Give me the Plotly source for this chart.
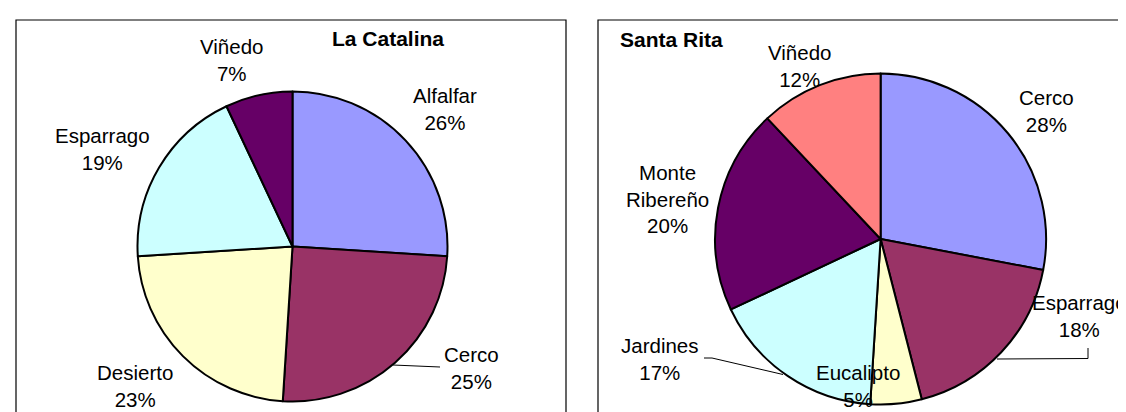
import plotly.graph_objects as go

W, H = 1126, 412

# ---- data ----
cat_labels = ["Alfalfar", "Cerco", "Desierto", "Esparrago", "Viñedo"]
cat_values = [26, 25, 23, 19, 7]
rita_labels = ["Cerco", "Esparrago", "Eucalipto", "Jardines", "Monte Ribereño", "Viñedo"]
rita_values = [28, 18, 5, 17, 20, 12]
titles = ["La Catalina", "Santa Rita"]

# ---- styles / layout ----
cat_colors = ["#9999FF", "#993366", "#FFFFCC", "#CCFFFF", "#660066"]
rita_colors = ["#9999FF", "#993366", "#FFFFCC", "#CCFFFF", "#660066", "#FF8080"]
FONT = "Arial, 'Liberation Sans', sans-serif"
FS = 20.5

def px(x, y):
    return x / W, 1 - y / H

def dom(cx, cy, r):
    return dict(x=[(cx - r) / W, (cx + r) / W], y=[1 - (cy + r) / H, 1 - (cy - r) / H])

# label centre positions in pixels
cat_pos = [(437, 101), (463, 360), (127, 378), (94, 141), (223.5, 52)]
rita_pos = [(1038.7, 102.5), (1071, 308.3), (849.7, 377.5), (651.5, 350.5), (659.4, 191), (791.8, 58.3)]
title_pos = [(379.5, 31), (663.9, 31.5)]

fig = go.Figure()
fig.add_trace(go.Pie(labels=cat_labels, values=cat_values, sort=False, direction="clockwise",
                     rotation=0, textinfo="none", hoverinfo="label+percent",
                     marker=dict(colors=cat_colors, line=dict(color="black", width=2)),
                     domain=dom(284.5, 238.5, 155), showlegend=False))
fig.add_trace(go.Pie(labels=rita_labels, values=rita_values, sort=False, direction="clockwise",
                     rotation=0, textinfo="none", hoverinfo="label+percent",
                     marker=dict(colors=rita_colors, line=dict(color="black", width=2)),
                     domain=dom(872.6, 231, 165.5), showlegend=False))

annotations = []
for labels, values, pos in [(cat_labels, cat_values, cat_pos), (rita_labels, rita_values, rita_pos)]:
    tot = sum(values)
    for lab, v, (x, y) in zip(labels, values, pos):
        xx, yy = px(x, y)
        annotations.append(dict(x=xx, y=yy, xref="paper", yref="paper", showarrow=False,
                                text=f"{lab.replace(' ', '<br>')}<br>{round(100 * v / tot)}%",
                                xanchor="center", yanchor="middle", align="center",
                                font=dict(family=FONT, size=FS, color="black")))
for t, (x, y) in zip(titles, title_pos):
    xx, yy = px(x, y)
    annotations.append(dict(x=xx, y=yy, xref="paper", yref="paper", showarrow=False,
                            text=f"<b>{t}</b>", xanchor="center", yanchor="middle",
                            font=dict(family=FONT, size=21, color="black")))

def path(points):
    s = ""
    for i, (x, y) in enumerate(points):
        xx, yy = px(x, y)
        s += ("M" if i == 0 else "L") + f"{xx},{yy} "
    return s.strip()

shapes = [
    dict(type="rect", xref="paper", yref="paper", x0=8 / W, x1=558 / W, y0=-0.1, y1=1 - 12 / H,
         line=dict(color="black", width=1.2), layer="below"),
    dict(type="rect", xref="paper", yref="paper", x0=590 / W, x1=1.05, y0=-0.1, y1=1 - 12 / H,
         line=dict(color="black", width=1.2), layer="below"),
    dict(type="path", xref="paper", yref="paper", path=path([(385, 357), (432, 359)]),
         line=dict(color="black", width=1)),
    dict(type="path", xref="paper", yref="paper", path=path([(696, 350), (704, 350), (775, 366.5)]),
         line=dict(color="black", width=1)),
    dict(type="path", xref="paper", yref="paper", path=path([(1080, 340), (1080, 350.5), (989, 351)]),
         line=dict(color="black", width=1)),
]

fig.update_layout(width=W, height=H, margin=dict(l=0, r=0, t=0, b=0),
                  paper_bgcolor="white", plot_bgcolor="white",
                  annotations=annotations, shapes=shapes, showlegend=False)
fig.write_html("out.html")
